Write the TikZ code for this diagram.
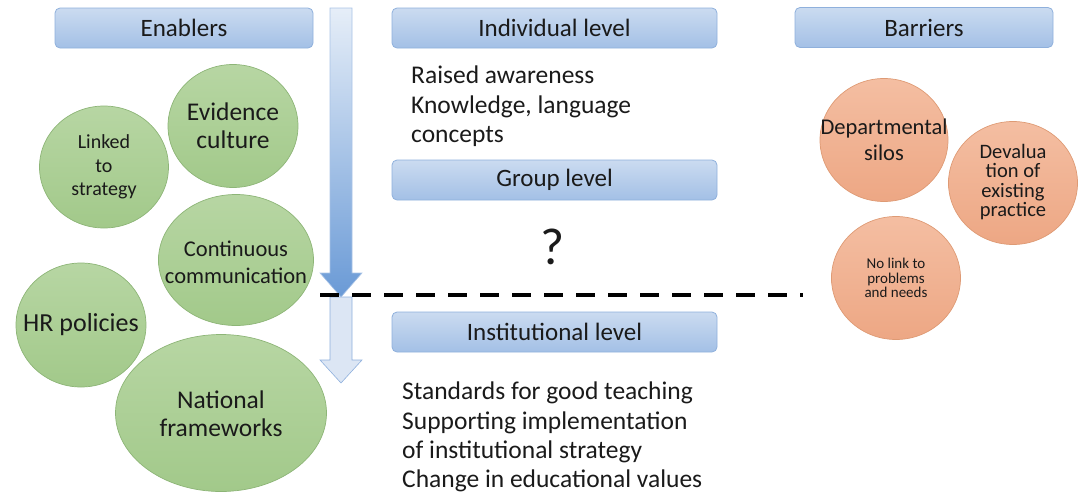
\documentclass[tikz,border=0pt]{standalone}
\usepackage{fontspec}
\setmainfont{Carlito}
\usetikzlibrary{shapes.geometric}
\newcommand\myfs[2]{\fontsize{#1}{#2}\selectfont}
\definecolor{txt}{HTML}{1A1A1A}
\definecolor{boxtop}{HTML}{CBDBF0}
\definecolor{boxbot}{HTML}{A3C0E6}
\definecolor{boxline}{HTML}{8FB0DC}
\definecolor{gtop}{HTML}{B7D6A3}
\definecolor{gbot}{HTML}{A2C98A}
\definecolor{gline}{HTML}{8DB577}
\definecolor{otop}{HTML}{F4BEA2}
\definecolor{obot}{HTML}{EDA784}
\definecolor{oline}{HTML}{DE9A74}
\definecolor{atop}{HTML}{E6EEF8}
\definecolor{abot}{HTML}{6A9AD6}
\definecolor{aline}{HTML}{A9C3E6}
\definecolor{a2fill}{HTML}{DCE6F4}
\definecolor{a2line}{HTML}{8FB0DD}
\tikzset{
  levelbox/.style={rectangle, rounded corners=5pt, minimum width=258pt, minimum height=40pt,
    top color=boxtop, bottom color=boxbot, draw=boxline, line width=0.8pt,
    text=txt, font=\myfs{25}{28}, inner sep=0pt},
  widebox/.style={levelbox, minimum width=325pt},
  greenblob/.style={ellipse, draw=gline, line width=0.7pt, top color=gtop, bottom color=gbot, inner sep=0pt},
  orangeblob/.style={ellipse, draw=oline, line width=0.7pt, top color=otop, bottom color=obot, inner sep=0pt},
  blobtext/.style={align=center, text=txt, inner sep=0pt},
  listtext/.style={align=left, text=txt, inner sep=0pt, anchor=north west, font=\myfs{25.5}{29.3}},
}
\begin{document}
\begin{tikzpicture}[x=1pt,y=-1pt]
\useasboundingbox (0,0) rectangle (1087,493);

% header / level boxes
\node[levelbox] (enab) at (184,28) {Enablers};
\node[widebox] (indiv) at (554.5,28) {Individual level};
\node[widebox] (group) at (554.5,180) {Group level};
\node[widebox] (inst) at (554.5,332) {Institutional level};
\node[levelbox] (barr) at (924,27.5) {Barriers};

% big arrows
\path[draw=aline, line width=0.6pt, top color=atop, bottom color=abot]
  (330,8) -- (352,8) -- (352,273) -- (362,273) -- (341,297) -- (320,273) -- (330,273) -- cycle;
\path[draw=a2line, line width=0.6pt, fill=a2fill]
  (330,297) -- (352,297) -- (352,360) -- (362,360) -- (341,383) -- (320,360) -- (330,360) -- cycle;

% dashed divider
\coordinate (dl) at (320,295);
\coordinate (dr) at (803,295);
\draw[line width=4pt, dash pattern=on 19pt off 13pt] (dl) -- (dr);

% enablers (green)
\node[greenblob, minimum width=129pt, minimum height=122pt] (lk) at (104,167) {};
\node[blobtext, font=\myfs{20}{23.5}] (lkt) at (lk) {Linked\\to\\strategy};
\node[greenblob, minimum width=130pt, minimum height=123pt] (ev) at (233,126) {};
\node[blobtext, font=\myfs{25.5}{28}] (evt) at (ev) {Evidence\\culture};
\node[greenblob, minimum width=155pt, minimum height=131pt] (cc) at (236,260) {};
\node[blobtext, font=\myfs{22.5}{27}] (cct) at (236,262) {Continuous\\communication};
\node[greenblob, minimum width=130pt, minimum height=124pt] (hr) at (81,325) {};
\node[blobtext, font=\myfs{26}{28}] (hrt) at (hr) {HR policies};
\node[greenblob, minimum width=211pt, minimum height=157pt] (nf) at (221,413) {};
\node[blobtext, font=\myfs{25.5}{28}] (nft) at (221,414) {National\\frameworks};

% barriers (orange)
\node[orangeblob, minimum width=128pt, minimum height=123pt] (ds) at (884,140) {};
\node[blobtext, font=\myfs{22.5}{26}] (dst) at (ds) {Departmental\\silos};
\node[orangeblob, minimum width=129pt, minimum height=123pt] (dv) at (1013,183) {};
\node[blobtext, font=\myfs{20.5}{19.5}] (dvt) at (1013,182) {Devalua\\tion of\\existing\\practice};
\node[orangeblob, minimum width=129pt, minimum height=123pt] (nl) at (896,278) {};
\node[blobtext, font=\myfs{15}{14.5}] (nlt) at (896,278) {No link to\\problems\\and needs};

% texts
\node[listtext] (ra) at (411,66) {Raised awareness\\Knowledge, language\\concepts};
\node[text=txt, inner sep=0pt, font=\myfs{52}{56}] (q) at (553,247) {?};
\node[listtext] (st) at (402,382) {Standards for good teaching\\Supporting implementation\\of institutional strategy\\Change in educational values};
\end{tikzpicture}
\end{document}
